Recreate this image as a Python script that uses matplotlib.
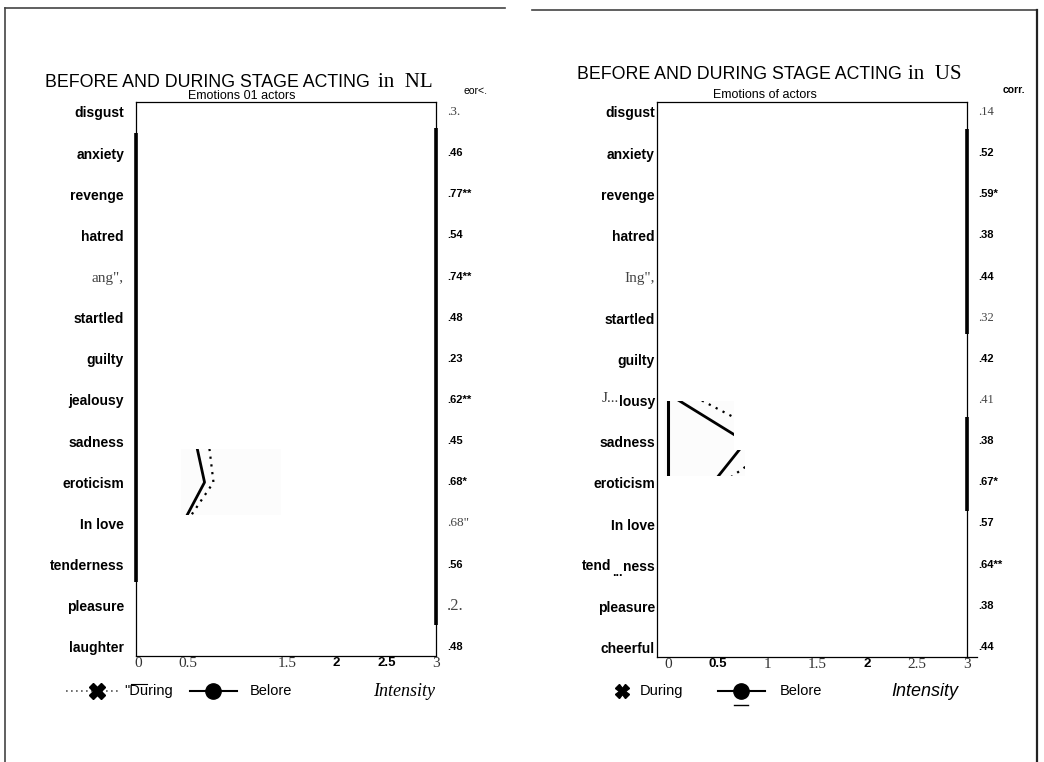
import matplotlib
matplotlib.use("Agg")
import matplotlib.pyplot as plt
from matplotlib.lines import Line2D
from matplotlib.patches import Polygon

W, H = 1044, 762

# ---------------- data ----------------
categories_nl = ["disgust", "anxiety", "revenge", "hatred", 'ang",', "startled", "guilty",
                 "jealousy", "sadness", "eroticism", "In love", "tenderness", "pleasure", "laughter"]
corr_nl = [".3.", ".46", ".77**", ".54", ".74**", ".48", ".23", ".62**", ".45", ".68*",
           '.68"', ".56", ".2.", ".48"]
categories_us = ["disgust", "anxiety", "revenge", "hatred", 'Ing",', "startled", "guilty",
                 "lousy", "sadness", "eroticism", "In love", "ness", "pleasure", "cheerful"]
corr_us = [".14", ".52", ".59*", ".38", ".44", ".32", ".42", ".41", ".38", ".67*", ".57",
           ".64**", ".38", ".44"]

xticks_nl = [0, 0.5, 1.5, 2, 2.5, 3]
xticklabels_nl = ["0", "0.5", "1.5", "2", "2.5", "3"]
xticks_us = [0, 0.5, 1, 1.5, 2, 2.5, 3]
xticklabels_us = ["0", "0.5", "1", "1.5", "2", "2.5", "3"]

# only the fragments of the profiles that survive in the scan
nl_rows = ["sadness", "eroticism", "In love"]
before_nl = [0.58, 0.67, 0.45]
during_nl = [0.71, 0.76, 0.48]
us_rows = ["lousy", "sadness", "eroticism"]
before_us = [0.11, 0.78, 0.45]
during_us = [0.34, 1.13, 0.55]

# visible (scanned) windows as polygons in data units
nl_window = [(0.43, 8.2), (1.44, 8.2), (1.44, 9.8), (0.43, 9.8)]
us_window = [(-0.04, 7.0), (0.66, 7.0), (0.66, 8.2), (0.77, 8.2), (0.77, 8.82), (-0.04, 8.82)]

SANS = "Liberation Sans"
SERIF = "Liberation Serif"

fig = plt.figure(figsize=(W / 100, H / 100), dpi=100)


def rect(l, t, r, b):
    return [l / W, 1 - b / H, (r - l) / W, (b - t) / H]


def fx(x):
    return x / W


def fy(y):
    return 1 - y / H


def ftext(x, y, s, **kw):
    fig.text(fx(x), fy(y), s, **kw)


def fline(xs, ys, **kw):
    fig.add_artist(Line2D([fx(v) for v in xs], [fy(v) for v in ys], **kw))


# page borders
fline([5, 5], [8, 762], color="#444", lw=1.2)
fline([5, 505], [8, 8], color="#444", lw=1.2)
fline([532, 1037], [10, 10], color="#444", lw=1.2)
fline([1037, 1037], [10, 762], color="#222", lw=1.6)


def panel(r, xlim, cats, xt, xtl, bold_ticks, ypad):
    ax = fig.add_axes(r)
    ax.set_xlim(*xlim)
    ax.set_ylim(13.22, -0.24)
    for s in ax.spines.values():
        s.set_linewidth(0.9)
        s.set_color("black")
    ax.set_yticks(range(len(cats)))
    ax.set_yticklabels(cats, fontfamily=SANS, fontweight="bold", fontsize=10)
    ax.tick_params(axis="y", length=0, pad=ypad)
    ax.set_xticks(xt)
    ax.set_xticklabels(xtl)
    ax.tick_params(axis="x", length=0, pad=1)
    for lab in ax.get_xticklabels():
        if lab.get_text() in bold_ticks:
            lab.set_fontfamily(SANS)
            lab.set_fontweight("bold")
            lab.set_fontsize(9.5)
        else:
            lab.set_fontfamily(SERIF)
            lab.set_fontsize(11)
            lab.set_color("#333")
    return ax


ax1 = panel(rect(136, 102, 436, 656), (-0.02, 3.0), categories_nl, xticks_nl, xticklabels_nl,
            {"2", "2.5"}, 8.6)
ax2 = panel(rect(657, 102, 967, 657), (-0.11, 3.0), categories_us, xticks_us, xticklabels_us,
            {"0.5", "2"}, 1.5)

for ax in (ax1, ax2):
    for lab in ax.get_yticklabels():
        if lab.get_text().endswith('",'):
            lab.set_fontfamily(SERIF)
            lab.set_fontweight("normal")
            lab.set_fontsize(11)
            lab.set_color("#444")

# thick (scanned) parts of the frame
ax1.vlines(-0.02, 0.51, 11.42, color="black", lw=2.6, clip_on=False)
ax1.vlines(3.0, 0.39, 12.47, color="black", lw=2.6, clip_on=False)
ax2.vlines(3.0, 0.41, 5.39, color="black", lw=2.6, clip_on=False)
ax2.vlines(3.0, 7.41, 9.67, color="black", lw=2.6, clip_on=False)
fline([967, 977], [657, 657], color="black", lw=0.9)


def fragments(ax, cats, rows, before, during, win, stub=False):
    patch = Polygon(win, closed=True, facecolor="#fcfcfc", edgecolor="none", zorder=1)
    ax.add_patch(patch)
    ys = [cats.index(r) for r in rows]
    l1, = ax.plot(before, ys, color="black", lw=2.0, zorder=3)
    l2, = ax.plot(during, ys, color="black", lw=1.6, ls=(0, (1, 2.5)), zorder=3)
    l1.set_clip_path(patch)
    l2.set_clip_path(patch)
    if stub:
        l3 = ax.axvline(0, color="black", lw=2.2, zorder=3)
        l3.set_clip_path(patch)


fragments(ax1, categories_nl, nl_rows, before_nl, during_nl, nl_window)
fragments(ax2, categories_us, us_rows, before_us, during_us, us_window, stub=True)

# split labels in the US panel
ftext(619, 397, "J...", fontfamily=SERIF, fontsize=11, ha="right", va="center_baseline",
      color="#333")
ftext(611, 565, "tend", fontfamily=SANS, fontweight="bold", fontsize=10, ha="right",
      va="center_baseline")
ftext(617, 573, "...", fontfamily=SANS, fontweight="bold", fontsize=9, ha="center", va="center")

# correlation columns
ys_rows = [112 + i * 41.15 for i in range(14)]
serif_nl = {".3.", '.68"', ".2."}
for y, c in zip(ys_rows, corr_nl):
    if c in serif_nl:
        ftext(447, y, c, fontfamily=SERIF, fontsize=12 if c == ".2." else 9.5, va="center",
              ha="left", color="#444")
    else:
        ftext(447, y, c, fontfamily=SANS, fontweight="bold", fontsize=8, va="center", ha="left")
serif_us = {".14", ".32", ".41"}
for y, c in zip(ys_rows, corr_us):
    if c in serif_us:
        ftext(978, y, c, fontfamily=SERIF, fontsize=9, va="center", ha="left", color="#444")
    else:
        ftext(978, y, c, fontfamily=SANS, fontweight="bold", fontsize=8, va="center", ha="left")
ftext(463, 91, "eor<.", fontfamily=SANS, fontsize=7.5, va="center", ha="left")
ftext(1003, 90, "corr.", fontfamily=SANS, fontweight="bold", fontsize=7.5, va="center", ha="left")

# titles
ftext(45, 87, "BEFORE AND DURING STAGE ACTING", fontfamily=SANS, fontsize=12.8, va="baseline")
ftext(378, 87, "in  NL", fontfamily=SERIF, fontsize=15, va="baseline")
ftext(577, 79, "BEFORE AND DURING STAGE ACTING", fontfamily=SANS, fontsize=12.8, va="baseline")
ftext(908, 79, "in  US", fontfamily=SERIF, fontsize=15, va="baseline")
ftext(242, 96, "Emotions 01 actors", fontfamily=SANS, fontsize=9, ha="center", va="center")
ftext(765, 95, "Emotions of actors", fontfamily=SANS, fontsize=9, ha="center", va="center")

# legends
ly = 691
fline([66, 120], [ly, ly], color="#555", lw=1.2, ls=(0, (1, 2)))
fig.add_artist(Line2D([fx(97)], [fy(ly)], marker="X", markersize=11, color="black", lw=0))
ftext(124, ly, '"During', fontfamily=SANS, fontsize=10.5, va="center", ha="left")
fline([131, 147], [684, 684], color="black", lw=0.8)
fline([190, 237], [ly, ly], color="black", lw=1.5)
fig.add_artist(Line2D([fx(213)], [fy(ly)], marker="o", markersize=11, color="black", lw=0))
ftext(250, ly, "Belore", fontfamily=SANS, fontsize=10.5, va="center", ha="left")
ftext(404, ly, "Intensity", fontfamily=SERIF, style="italic", fontsize=13, va="center", ha="center")

fig.add_artist(Line2D([fx(622)], [fy(ly)], marker="X", markersize=10, color="black", lw=0))
ftext(640, ly, "During", fontfamily=SANS, fontsize=10.5, va="center", ha="left")
fline([718, 765], [ly, ly], color="black", lw=1.5)
fig.add_artist(Line2D([fx(741)], [fy(ly)], marker="o", markersize=11, color="black", lw=0))
fline([734, 748], [705, 705], color="black", lw=1.0)
ftext(780, ly, "Belore", fontfamily=SANS, fontsize=10.5, va="center", ha="left")
ftext(925, ly, "Intensity", fontfamily=SANS, style="italic", fontsize=13, va="center", ha="center")

fig.savefig("out.png", dpi=100)
